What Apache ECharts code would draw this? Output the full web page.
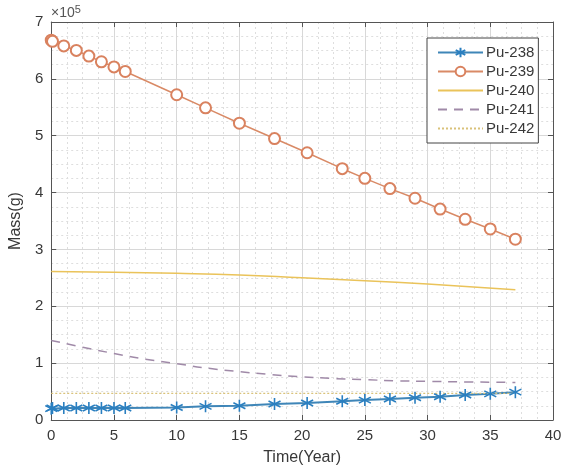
<!DOCTYPE html>
<html>
<head>
<meta charset="utf-8">
<script src="https://cdn.jsdelivr.net/npm/echarts@6/dist/echarts.min.js"></script>
<style>
  html, body { margin: 0; padding: 0; background: #fff; }
  #main { width: 566px; height: 474px; }
</style>
</head>
<body>
<div id="main"></div>
<script>
// values are in units of 1e5 g (axis shows x10^5)
var years = [0, 0.1, 1, 2, 3, 4, 5, 5.9, 10, 12.3, 15, 17.8, 20.4, 23.2, 25, 27, 29, 31, 33, 35, 37];
var pu238 = [0.2, 0.21, 0.21, 0.21, 0.21, 0.21, 0.21, 0.21, 0.22, 0.24, 0.25, 0.28, 0.3, 0.33, 0.35, 0.37, 0.39, 0.41, 0.44, 0.46, 0.49];
var pu239 = [6.68, 6.66, 6.58, 6.5, 6.4, 6.3, 6.21, 6.13, 5.72, 5.49, 5.22, 4.95, 4.7, 4.42, 4.25, 4.07, 3.9, 3.71, 3.53, 3.36, 3.18];

var years240 = [0, 5, 10, 15, 20, 25, 30, 37];
var pu240 = [2.61, 2.6, 2.58, 2.55, 2.5, 2.45, 2.39, 2.29];

var years241 = [0, 2.5, 5, 7.5, 10, 12.5, 15, 17.5, 20, 22.5, 25, 27.5, 30, 33, 37];
var pu241 = [1.4, 1.28, 1.17, 1.07, 0.99, 0.91, 0.85, 0.8, 0.76, 0.73, 0.71, 0.69, 0.68, 0.67, 0.66];

var years242 = [0, 37];
var pu242 = [0.47, 0.47];

var names = ['Pu-238', 'Pu-239', 'Pu-240', 'Pu-241', 'Pu-242'];

function pairs(xs, ys) {
  return xs.map(function (x, i) { return [x, ys[i]]; });
}

var star = 'path://M0,-5L0,5M-4.33,-2.5L4.33,2.5M-4.33,2.5L4.33,-2.5';
var font = 'Liberation Sans, Arial, sans-serif';
var textColor = '#383838';

var chart = echarts.init(document.getElementById('main'));

var tickStyle = { show: true, inside: true, length: 5, lineStyle: { color: '#555' } };

// plain lines in the legend: hide the marker for series without symbols
var legendData = names.map(function (n, i) {
  return i < 2 ? { name: n } : { name: n, itemStyle: { opacity: 0 } };
});

chart.setOption({
  backgroundColor: '#fff',
  animation: false,
  grid: { left: 50, right: 13, top: 22, bottom: 54 },
  xAxis: [{
    type: 'value', min: 0, max: 40, interval: 5,
    name: 'Time(Year)', nameLocation: 'middle', nameGap: 30,
    nameTextStyle: { fontFamily: font, fontSize: 16, color: textColor },
    axisLine: { onZero: false, lineStyle: { color: '#555', width: 1 } },
    axisTick: tickStyle,
    minorTick: { show: false, splitNumber: 4 },
    axisLabel: { fontFamily: font, fontSize: 15, color: textColor, margin: 8 },
    splitLine: { show: true, lineStyle: { color: '#d8d8d8', width: 1 } },
    minorSplitLine: { show: true, lineStyle: { color: '#dedede', type: [2, 3] } }
  }, {
    type: 'value', min: 0, max: 40, interval: 5, position: 'top',
    axisLine: { onZero: false, lineStyle: { color: '#555' } },
    axisTick: tickStyle, axisLabel: { show: false }, splitLine: { show: false }
  }],
  yAxis: [{
    type: 'value', min: 0, max: 7, interval: 1,
    name: 'Mass(g)', nameLocation: 'middle', nameGap: 24,
    nameTextStyle: { fontFamily: font, fontSize: 16, color: textColor },
    axisLine: { show: true, onZero: false, lineStyle: { color: '#555', width: 1 } },
    axisTick: tickStyle,
    minorTick: { show: false, splitNumber: 4 },
    axisLabel: { fontFamily: font, fontSize: 15, color: textColor, margin: 8 },
    splitLine: { show: true, lineStyle: { color: '#d8d8d8', width: 1 } },
    minorSplitLine: { show: true, lineStyle: { color: '#dedede', type: [2, 3] } }
  }, {
    type: 'value', min: 0, max: 7, interval: 1, position: 'right',
    axisLine: { show: true, onZero: false, lineStyle: { color: '#555' } },
    axisTick: tickStyle, axisLabel: { show: false }, splitLine: { show: false }
  }],
  legend: {
    orient: 'vertical', left: 427, top: 38,
    padding: [7, 4, 7, 10], itemGap: 4,
    itemWidth: 45, itemHeight: 12,
    backgroundColor: '#fff', borderColor: '#444', borderWidth: 1, borderRadius: 0,
    textStyle: { fontFamily: font, fontSize: 15, color: textColor, padding: [0, 0, 0, -2] },
    data: legendData
  },
  graphic: [{
    type: 'text', left: 51, top: 4,
    style: {
      text: '{a|×10}{b|5}',
      rich: {
        a: { fontFamily: font, fontSize: 14, fill: '#555' },
        b: { fontFamily: font, fontSize: 11, fill: '#555', verticalAlign: 'top', padding: [0, 0, 8, 0] }
      }
    }
  }],
  series: [{
    name: names[0], type: 'line',
    data: pairs(years, pu238),
    symbol: star, symbolSize: 12,
    itemStyle: { color: '#2a7fc0', borderColor: '#2a7fc0', borderWidth: 1.6 },
    lineStyle: { color: '#3f86b8', width: 2 }
  }, {
    name: names[1], type: 'line',
    data: pairs(years, pu239),
    symbol: 'emptyCircle', symbolSize: 11,
    itemStyle: { color: '#d9825f', borderColor: '#d9825f', borderWidth: 1.3 },
    lineStyle: { color: '#d98a66', width: 1.5 }
  }, {
    name: names[2], type: 'line',
    data: pairs(years240, pu240),
    smooth: true, symbol: 'none',
    itemStyle: { color: '#eac35a' },
    lineStyle: { color: '#eac35a', width: 1.5 }
  }, {
    name: names[3], type: 'line',
    data: pairs(years241, pu241),
    smooth: true, symbol: 'none',
    itemStyle: { color: '#a08aa8' },
    lineStyle: { color: '#a08aa8', width: 1.5, type: [9, 7] }
  }, {
    name: names[4], type: 'line',
    data: pairs(years242, pu242),
    symbol: 'none',
    itemStyle: { color: '#d9c27a' },
    lineStyle: { color: '#d9c27a', width: 1.3, type: [2, 2] }
  }]
});
</script>
</body>
</html>
